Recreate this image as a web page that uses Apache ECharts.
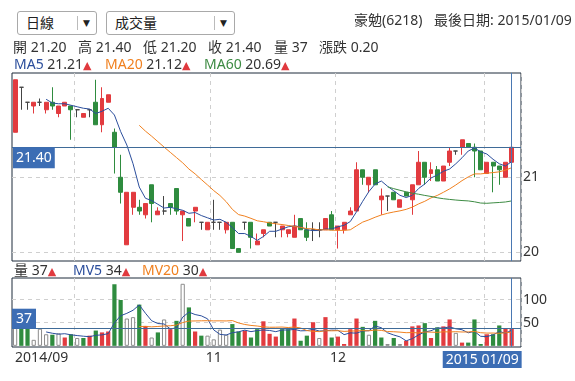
<!DOCTYPE html>
<html>
<head>
<meta charset="utf-8">
<script src="https://cdn.jsdelivr.net/npm/echarts@6.0.0/dist/echarts.min.js"></script>
<style>
html,body{margin:0;padding:0;background:#fff;}
body{width:575px;height:381px;position:relative;overflow:hidden;font-family:"Noto Sans","Noto Sans CJK TC",sans-serif;color:#333;font-size:14px;}
#chart{position:absolute;left:0;top:0;width:575px;height:381px;}
.sel{position:absolute;top:11px;height:24px;border:1px solid #a9a9a9;border-radius:3px;box-sizing:border-box;background:#fff;z-index:2;}
.sel .t{position:absolute;top:0;line-height:22px;font-size:14px;color:#222;white-space:nowrap;}
.sel .d{position:absolute;top:4px;width:1px;height:14px;background:#bbb;}
.sel .a{position:absolute;top:0;line-height:22px;font-size:9px;color:#222;font-family:"DejaVu Sans";}
.hd{position:absolute;white-space:nowrap;line-height:18px;font-size:14px;color:#333;z-index:2;}
.up{color:#e0393e;font-family:"DejaVu Sans";font-size:11px;}
</style>
</head>
<body>
<div id="chart"></div>
<div class="sel" style="left:17px;width:80px;"><span class="t" style="left:8px">日線</span><i class="d" style="left:59px"></i><span class="a" style="left:65px">▼</span></div>
<div class="sel" style="left:106px;width:129px;"><span class="t" style="left:8px">成交量</span><i class="d" style="left:107px"></i><span class="a" style="left:113px">▼</span></div>
<div class="hd" style="left:354px;top:11px;">豪勉(6218)</div>
<div class="hd" style="left:434px;top:11px;">最後日期: 2015/01/09</div>

<div class="hd" style="left:13px;top:38px;">開 21.20</div>
<div class="hd" style="left:78px;top:38px;">高 21.40</div>
<div class="hd" style="left:143px;top:38px;">低 21.20</div>
<div class="hd" style="left:208px;top:38px;">收 21.40</div>
<div class="hd" style="left:274px;top:38px;">量 37</div>
<div class="hd" style="left:319px;top:38px;">漲跌 0.20</div>

<div class="hd" style="left:14px;top:55px;"><span style="color:#2b4e9c">MA5</span> 21.21<span class="up">▲</span></div>
<div class="hd" style="left:105px;top:55px;"><span style="color:#f0801f">MA20</span> 21.12<span class="up">▲</span></div>
<div class="hd" style="left:204px;top:55px;"><span style="color:#3d8b43">MA60</span> 20.69<span class="up">▲</span></div>

<div class="hd" style="left:14px;top:261px;">量 37<span class="up">▲</span></div>
<div class="hd" style="left:73px;top:261px;"><span style="color:#2b4e9c">MV5</span> 34<span class="up">▲</span></div>
<div class="hd" style="left:142px;top:261px;"><span style="color:#f0801f">MV20</span> 30<span class="up">▲</span></div>

<script>
const dates = [
'2014/09/17','2014/09/18','2014/09/19','2014/09/22','2014/09/23','2014/09/24','2014/09/25','2014/09/26','2014/09/29','2014/09/30',
'2014/10/01','2014/10/02','2014/10/03','2014/10/06','2014/10/07','2014/10/08','2014/10/09','2014/10/13','2014/10/14','2014/10/15',
'2014/10/16','2014/10/17','2014/10/20','2014/10/21','2014/10/22','2014/10/23','2014/10/24','2014/10/27','2014/10/28','2014/10/29',
'2014/10/30','2014/10/31','2014/11/03','2014/11/04','2014/11/05','2014/11/06','2014/11/07','2014/11/10','2014/11/11','2014/11/12',
'2014/11/13','2014/11/14','2014/11/17','2014/11/18','2014/11/19','2014/11/20','2014/11/21','2014/11/24','2014/11/25','2014/11/26',
'2014/11/27','2014/11/28','2014/12/01','2014/12/02','2014/12/03','2014/12/04','2014/12/05','2014/12/08','2014/12/09','2014/12/10',
'2014/12/11','2014/12/12','2014/12/15','2014/12/16','2014/12/17','2014/12/18','2014/12/19','2014/12/22','2014/12/23','2014/12/24',
'2014/12/25','2014/12/26','2014/12/27','2014/12/29','2014/12/30','2014/12/31','2015/01/05','2015/01/06','2015/01/07','2015/01/08',
'2015/01/09'];

const opens = [
21.60,22.20,22.00,21.95,22.00,21.90,22.00,21.85,21.95,21.95,
21.90,21.80,21.90,22.00,21.70,22.00,21.60,21.00,20.10,20.60,
20.60,20.50,20.90,20.50,20.55,20.65,20.85,20.50,20.45,20.55,
20.40,20.30,20.40,20.40,20.30,20.40,20.05,20.40,20.40,20.10,
20.25,20.40,20.40,20.30,20.25,20.20,20.45,20.30,20.30,20.30,
20.30,20.50,20.30,20.30,20.50,20.55,21.10,20.90,21.10,20.70,
20.75,20.80,20.60,20.80,20.70,20.90,21.20,21.05,21.10,20.95,
21.20,21.35,21.40,21.45,21.40,21.35,21.05,21.20,21.15,21.00,
21.20];

const closes = [
22.30,22.20,22.00,22.00,22.00,22.00,21.95,21.95,22.00,21.90,
21.90,21.85,21.90,21.70,22.05,22.10,21.40,20.80,20.80,20.80,
20.55,20.65,20.65,20.55,20.55,20.60,20.55,20.55,20.35,20.60,
20.40,20.40,20.40,20.40,20.40,20.05,20.00,20.40,20.20,20.15,
20.30,20.35,20.40,20.35,20.30,20.35,20.30,20.20,20.30,20.30,
20.45,20.30,20.35,20.40,20.55,21.10,21.00,21.00,20.90,20.75,
20.75,20.70,20.70,20.75,20.90,21.20,21.00,21.10,20.95,21.15,
21.35,21.35,21.50,21.40,21.35,21.10,21.20,21.15,21.10,21.20,
21.40];

const lows = [
21.60,21.90,21.90,21.85,21.95,21.85,21.90,21.80,21.95,21.50,
21.80,21.80,21.80,21.70,21.60,22.00,21.05,20.65,20.10,20.50,
20.50,20.45,20.40,20.50,20.50,20.50,20.50,20.15,20.35,20.40,
20.30,20.30,20.30,20.30,20.25,20.05,20.00,20.30,20.05,20.10,
20.20,20.35,20.20,20.20,20.20,20.20,20.30,20.15,20.15,20.20,
20.30,20.30,20.05,20.25,20.50,20.55,20.90,20.80,20.90,20.50,
20.55,20.70,20.60,20.75,20.50,20.90,20.90,20.95,20.95,20.95,
21.15,21.30,21.30,21.40,21.00,21.10,21.05,20.80,20.90,21.00,
21.20];

const highs = [
22.30,22.20,22.00,22.00,22.05,22.00,22.20,21.95,22.00,21.95,
21.90,21.85,21.90,22.30,22.20,22.10,21.65,21.30,20.80,20.80,
20.70,20.65,20.90,20.60,20.75,20.65,20.85,20.55,20.45,20.60,
20.40,20.40,20.70,20.40,20.40,20.40,20.05,20.40,20.40,20.25,
20.30,20.40,20.40,20.35,20.30,20.50,20.45,20.40,20.40,20.40,
20.45,20.55,20.35,20.40,20.60,21.20,21.10,21.00,21.10,20.85,
20.75,20.80,20.70,20.80,20.90,21.35,21.20,21.20,21.15,21.15,
21.40,21.35,21.50,21.45,21.45,21.35,21.20,21.20,21.15,21.20,
21.40];

const volumes = [
40,38,37,13,37,25,24,27,18,25,
17,17,22,33,29,31,133,99,59,62,
89,43,18,29,57,36,54,134,83,31,
22,22,14,35,24,47,31,33,18,36,
53,26,20,36,36,59,11,22,51,17,
62,18,20,4,36,59,41,24,54,18,
4,17,4,11,42,44,49,17,40,42,
57,28,7,7,57,4,25,25,44,38,
37];

const priceTicks = [20, 21];
const volumeTicks = [50, 100];
const tickIdx = [0, 32, 52, 80];
const tickText = ['2014/09', '11', '12', '2015 01/09'];

const RED = '#e23b3f', GREEN = '#2f8c3f';
const C_MA5 = '#2b4e9c', C_MA20 = '#f0801f', C_MA60 = '#3d8b43';
const TAG = '#3c6db4', CUR = '#3f6b98', CROSS = '#4a78b2';
const FONT = '"Noto Sans","Noto Sans CJK TC",sans-serif';

function movingAvg(src, n) {
  return src.map((v, i) => {
    if (i < n) return '-';
    let s = 0;
    for (let k = i - n + 1; k <= i; k++) s += src[k];
    return +(s / n).toFixed(4);
  });
}

const cats = dates.concat(['']);
const last = dates.length - 1;
const candle = dates.map((d, i) => [opens[i], closes[i], lows[i], highs[i]]);
const dividerIdx = [];
dates.forEach((d, i) => { if (i > 0 && d.slice(0, 7) !== dates[i - 1].slice(0, 7)) dividerIdx.push(i); });
const volData = volumes.map((v, i) => {
  const diff = i === 0 ? 0 : Math.round((closes[i] - closes[i - 1]) * 100);
  if (diff > 0) return { value: v, itemStyle: { color: RED } };
  if (diff < 0) return { value: v, itemStyle: { color: GREEN } };
  return { value: v, itemStyle: { color: '#ffffff', borderColor: '#8c8c8c', borderWidth: 1 } };
});

const dash = { color: '#cfcfcf', type: [4, 4], width: 1 };

const chart = echarts.init(document.getElementById('chart'), null, { renderer: 'canvas' });
chart.setOption({
  animation: false,
  textStyle: { fontFamily: FONT },
  grid: [
    { left: 12, top: 73, width: 509, height: 188, show: true, borderColor: '#1d2b3a', borderWidth: 1 },
    { left: 12, top: 278, width: 509, height: 69, show: true, borderColor: '#1d2b3a', borderWidth: 1 }
  ],
  xAxis: [
    { type: 'category', gridIndex: 0, data: cats, boundaryGap: true,
      axisLine: { show: false }, axisTick: { show: false, alignWithLabel: true, customValues: dividerIdx },
      axisLabel: { show: false }, splitLine: { show: true, lineStyle: dash } },
    { type: 'category', gridIndex: 1, data: cats, boundaryGap: true,
      axisLine: { show: false }, axisTick: { show: false, alignWithLabel: true, customValues: dividerIdx },
      splitLine: { show: true, lineStyle: dash },
      axisLabel: {
        show: true, interval: (idx) => tickIdx.indexOf(idx) >= 0, margin: 4, color: '#333', fontSize: 14,
        fontFamily: FONT, alignMinLabel: 'left', hideOverlap: false,
        formatter: (val, idx) => {
          const k = tickIdx.indexOf(idx);
          if (k < 0) return '';
          if (idx === last) return '{tag|' + tickText[k] + '}{sp| }';
          return tickText[k];
        },
        rich: {
          tag: { backgroundColor: TAG, color: '#fff', padding: [2, 3, 1, 3], fontSize: 14, fontFamily: FONT },
          sp: { width: 59 }
        }
      } }
  ],
  yAxis: [
    { type: 'value', gridIndex: 0, position: 'right', min: 19.884, max: 22.39,
      axisLine: { show: false }, axisTick: { show: false, customValues: priceTicks },
      axisLabel: { customValues: priceTicks, margin: 2, color: '#333', fontSize: 14, fontFamily: FONT },
      splitLine: { show: true, lineStyle: dash } },
    { type: 'value', gridIndex: 1, position: 'right', min: -2.5, max: 146.5,
      axisLine: { show: false }, axisTick: { show: false, customValues: volumeTicks },
      axisLabel: { customValues: volumeTicks, margin: 2, color: '#333', fontSize: 14, fontFamily: FONT },
      splitLine: { show: true, lineStyle: dash } }
  ],
  series: [
    { type: 'candlestick', xAxisIndex: 0, yAxisIndex: 0, data: candle, barWidth: '72%',
      itemStyle: { color: RED, color0: GREEN, borderColor: RED, borderColor0: GREEN, borderColorDoji: '#444', borderWidth: 1 },
      markLine: { silent: true, symbol: ['none', 'none'], animation: false,
        data: [
          { yAxis: closes[last], lineStyle: { color: CUR, width: 1, type: 'solid' },
            label: { show: true, position: 'insideStartBottom', distance: [1, 0], formatter: closes[last].toFixed(2),
              color: '#fff', backgroundColor: TAG, padding: [4, 3, 3, 3], fontSize: 14, fontFamily: FONT } },
          { xAxis: dates[last], lineStyle: { color: CROSS, width: 1, type: 'solid' }, label: { show: false } }
        ] } },
    { type: 'line', name: 'MA5', xAxisIndex: 0, yAxisIndex: 0, data: movingAvg(closes, 5), symbol: 'none',
      lineStyle: { color: C_MA5, width: 1 }, itemStyle: { color: C_MA5 } },
    { type: 'line', name: 'MA20', xAxisIndex: 0, yAxisIndex: 0, data: movingAvg(closes, 20), symbol: 'none',
      lineStyle: { color: C_MA20, width: 1 }, itemStyle: { color: C_MA20 } },
    { type: 'line', name: 'MA60', xAxisIndex: 0, yAxisIndex: 0, data: movingAvg(closes, 60), symbol: 'none',
      lineStyle: { color: C_MA60, width: 1 }, itemStyle: { color: C_MA60 } },
    { type: 'bar', xAxisIndex: 1, yAxisIndex: 1, data: volData, barWidth: '68%',
      markLine: { silent: true, symbol: ['none', 'none'], animation: false,
        data: [
          { yAxis: volumes[last], lineStyle: { color: CUR, width: 1, type: 'solid' },
            label: { show: true, position: 'insideStartTop', distance: [0, 0], formatter: String(volumes[last]),
              color: '#fff', backgroundColor: TAG, padding: [3, 4, 3, 4], fontSize: 14, fontFamily: FONT } },
          { xAxis: dates[last], lineStyle: { color: CROSS, width: 1, type: 'solid' }, label: { show: false } }
        ] } },
    { type: 'line', name: 'MV5', xAxisIndex: 1, yAxisIndex: 1, data: movingAvg(volumes, 5), symbol: 'none',
      lineStyle: { color: C_MA5, width: 1 }, itemStyle: { color: C_MA5 } },
    { type: 'line', name: 'MV20', xAxisIndex: 1, yAxisIndex: 1, data: movingAvg(volumes, 20), symbol: 'none',
      lineStyle: { color: C_MA20, width: 1 }, itemStyle: { color: C_MA20 } }
  ]
});
</script>
</body>
</html>
